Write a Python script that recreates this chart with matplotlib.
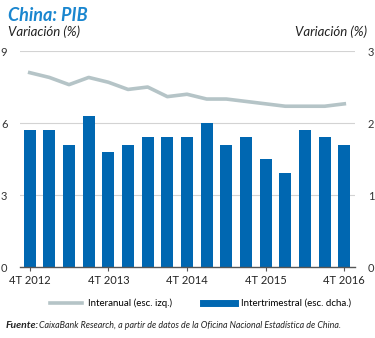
import matplotlib.pyplot as plt
import numpy as np
from matplotlib.lines import Line2D

plt.rcParams['font.family'] = ['Lato', 'DejaVu Sans']

# trimestres 4T 2012 .. 4T 2016
quarters = ["4T 2012", "1T 2013", "2T 2013", "3T 2013", "4T 2013", "1T 2014", "2T 2014",
            "3T 2014", "4T 2014", "1T 2015", "2T 2015", "3T 2015", "4T 2015", "1T 2016",
            "2T 2016", "3T 2016", "4T 2016"]
interanual = [8.1, 7.9, 7.6, 7.9, 7.7, 7.4, 7.5, 7.1, 7.2, 7.0, 7.0, 6.9, 6.8, 6.7, 6.7, 6.7, 6.8]
intertrimestral = [1.9, 1.9, 1.7, 2.1, 1.6, 1.7, 1.8, 1.8, 1.8, 2.0, 1.7, 1.8, 1.5, 1.3, 1.9, 1.8, 1.7]
tick_labels = ["4T 2012", "4T 2013", "4T 2014", "4T 2015", "4T 2016"]

line_color = "#b5c4c7"
bar_color = "#0067b1"
title_color = "#1a86cf"

fig = plt.figure(figsize=(3.75, 3.38), dpi=100)
ax = fig.add_axes([0.053, 0.21, 0.894, 0.639])
ax2 = ax.twinx()

x = np.arange(len(quarters))
ax2.bar(x, intertrimestral, width=0.6, color=bar_color, zorder=2)
ax.plot(x, interanual, color=line_color, linewidth=2.6, zorder=3)

ax.set_zorder(ax2.get_zorder() + 1)
ax.patch.set_visible(False)

ax.set_xlim(-0.5, 16.55)
ax.set_ylim(0, 9)
ax2.set_ylim(0, 3)
ax.set_yticks([0, 3, 6, 9])
ax2.set_yticks([0, 1, 2, 3])
for v in [3, 6, 9]:
    ax2.axhline(v / 3, color="#d3d3d3", linewidth=0.8, zorder=0)

for a in (ax, ax2):
    for s in a.spines.values():
        s.set_visible(False)
    a.tick_params(axis="y", length=0, labelsize=8, colors="#333333")
ax.tick_params(axis="y", pad=9)
ax2.tick_params(axis="y", pad=9)
ax.spines["bottom"].set_visible(True)
ax.spines["bottom"].set_color("#555555")
ax.spines["bottom"].set_linewidth(1.0)

tick_pos = [quarters.index(t) for t in tick_labels]
ax.set_xticks(tick_pos)
ax.set_xticklabels(tick_labels)
ax.tick_params(axis="x", length=3, width=0.8, colors="#555555", labelsize=8, labelcolor="#222222", pad=3)

fig.text(0.022, 0.955, "China: PIB", fontsize=13, fontweight="bold", style="italic",
         color=title_color, va="center")
fig.text(0.022, 0.905, "Variación (%)", fontsize=9.5, style="italic", color="#222222", va="center")
fig.text(0.978, 0.905, "Variación (%)", fontsize=9.5, style="italic", color="#222222",
         va="center", ha="right")

handles = [Line2D([], [], color=line_color, linewidth=2.6),
           Line2D([], [], color=bar_color, linewidth=5)]
fig.legend(handles, ["Interanual (esc. izq.)", "Intertrimestral (esc. dcha.)"],
           loc="center", bbox_to_anchor=(0.535, 0.103), ncol=2, frameon=False, fontsize=7,
           handlelength=3.3, columnspacing=3.2, handletextpad=0.6)

fig.text(0.014, 0.038, "Fuente:", fontsize=7.5, fontweight="bold", style="italic",
         va="center", color="#222222")
fig.text(0.104, 0.038, "CaixaBank Research, a partir de datos de la Oficina Nacional Estadística de China.",
         fontsize=6.4, style="italic", va="center", color="#222222")

fig.savefig("out.png", dpi=100)
